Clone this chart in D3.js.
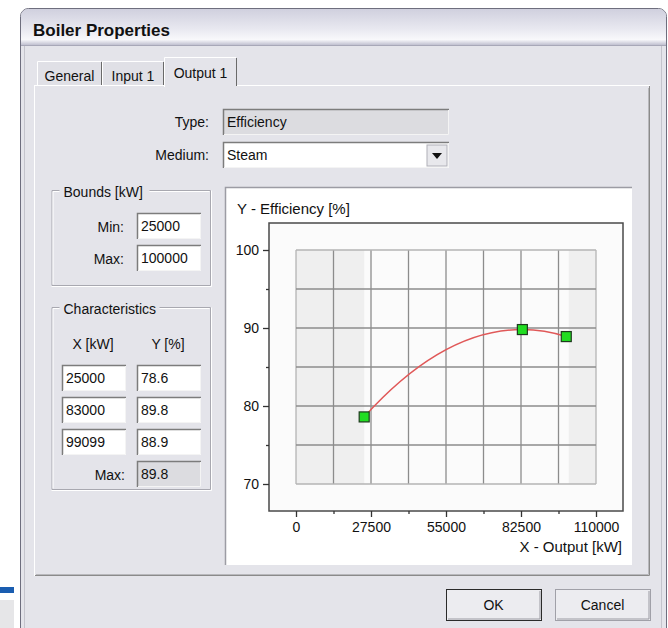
<!DOCTYPE html>
<html>
<head>
<meta charset="utf-8">
<script src="https://cdn.jsdelivr.net/npm/d3@7"></script>
<style>
  body { margin: 0; background: #fff; }
  text { font-family: "Liberation Sans", Arial, sans-serif; fill: #111; }
</style>
</head>
<body>
<div id="dialog"></div>
<script>
// chart data
var xTicks = [0, 27500, 55000, 82500, 110000];
var xMinor = [13750, 41250, 68750, 96250];
var yTicks = [70, 80, 90, 100];
var yMinor = [75, 85, 95];
var pointX = [25000, 83000, 99099];
var pointY = [78.6, 89.8, 88.9];
var boundsMin = 25000, boundsMax = 100000;
var maxEff = 89.8;

var width = 668, height = 628;
var bodyColor = "#e4e4ea";

var svg = d3.select("#dialog").append("svg")
    .attr("width", width)
    .attr("height", height);

var defs = svg.append("defs");
var grad = defs.append("linearGradient").attr("id", "titleGrad")
    .attr("x1", 0).attr("y1", 0).attr("x2", 0).attr("y2", 1);
grad.append("stop").attr("offset", "0%").attr("stop-color", "#d0d0de");
grad.append("stop").attr("offset", "55%").attr("stop-color", "#e8e8f0");
grad.append("stop").attr("offset", "85%").attr("stop-color", "#f8f8fb");
grad.append("stop").attr("offset", "100%").attr("stop-color", "#c0c0d0");

// background bits left of the window
svg.append("rect").attr("x", 0).attr("y", 587).attr("width", 14).attr("height", 6).attr("fill", "#1a5db0");
svg.append("rect").attr("x", 0).attr("y", 600).attr("width", 14).attr("height", 28).attr("fill", "#e6e6e8");

// window frame
svg.append("rect")
    .attr("x", 20.5).attr("y", 8.5).attr("width", 646).attr("height", 640)
    .attr("rx", 8)
    .attr("fill", bodyColor).attr("stroke", "#6e6e7e");
svg.append("path")
    .attr("d", "M21,45 L21,17 Q21,9 29,9 L658,9 Q666,9 666,17 L666,45 Z")
    .attr("fill", "url(#titleGrad)");
svg.append("line").attr("x1", 21).attr("x2", 666).attr("y1", 45.5).attr("y2", 45.5).attr("stroke", "#a8a8b8");
svg.append("line").attr("x1", 24.5).attr("x2", 24.5).attr("y1", 46).attr("y2", 628).attr("stroke", "#c4c4cc");
svg.append("line").attr("x1", 661.5).attr("x2", 661.5).attr("y1", 46).attr("y2", 628).attr("stroke", "#c4c4cc");

svg.append("text")
    .attr("x", 33).attr("y", 36)
    .style("font-size", "17px").style("font-weight", "bold")
    .text("Boiler Properties");

// tab page
svg.append("rect").attr("x", 34.5).attr("y", 85.5).attr("width", 615).attr("height", 490)
    .attr("fill", bodyColor).attr("stroke", "#ffffff");
svg.append("path").attr("d", "M649.5,86 L649.5,575.5 L35,575.5")
    .attr("fill", "none").attr("stroke", "#8a8a8a");
svg.append("path").attr("d", "M648.5,88 L648.5,574.5 L36,574.5")
    .attr("fill", "none").attr("stroke", "#b8b8bc");

// tabs
var tabs = [
    { label: "General", x0: 37, x1: 102, selected: false },
    { label: "Input 1", x0: 102, x1: 164, selected: false },
    { label: "Output 1", x0: 164, x1: 237, selected: true }
];
tabs.forEach(function(t) {
    var top = t.selected ? 57 : 61;
    var bottom = t.selected ? 87 : 85;
    svg.append("rect").attr("x", t.x0).attr("y", top).attr("width", t.x1 - t.x0).attr("height", bottom - top)
        .attr("fill", t.selected ? bodyColor : "#e0e0e6");
    svg.append("path")
        .attr("d", "M" + (t.x0 + 0.5) + "," + bottom + " L" + (t.x0 + 0.5) + "," + (top + 0.5) + " L" + (t.x1 - 1) + "," + (top + 0.5))
        .attr("fill", "none").attr("stroke", "#ffffff");
    svg.append("line").attr("x1", t.x1 - 0.5).attr("x2", t.x1 - 0.5).attr("y1", top + 1).attr("y2", bottom - (t.selected ? 1 : 0))
        .attr("stroke", "#6a6a6a");
    svg.append("text")
        .attr("x", (t.x0 + t.x1) / 2).attr("y", t.selected ? 78 : 81)
        .attr("text-anchor", "middle")
        .style("font-size", "14px")
        .text(t.label);
});

// windows style edit box
function field(x, y, w, h, value, disabled) {
    svg.append("rect").attr("x", x).attr("y", y).attr("width", w).attr("height", h)
        .attr("fill", disabled ? "#dcdce0" : "#ffffff");
    svg.append("path").attr("d", "M" + (x + 0.5) + "," + (y + h) + " L" + (x + 0.5) + "," + (y + 0.5) + " L" + (x + w) + "," + (y + 0.5))
        .attr("fill", "none").attr("stroke", "#7c7c7c").attr("stroke-width", 1.5);
    svg.append("path").attr("d", "M" + (x + 1) + "," + (y + h - 0.5) + " L" + (x + w - 0.5) + "," + (y + h - 0.5) + " L" + (x + w - 0.5) + "," + (y + 1))
        .attr("fill", "none").attr("stroke", "#f4f4f4");
    svg.append("text").attr("x", x + 4).attr("y", y + h / 2 + 5)
        .style("font-size", "14px")
        .text(value);
}

function label(x, y, txt, anchor) {
    svg.append("text").attr("x", x).attr("y", y)
        .attr("text-anchor", anchor || "end")
        .style("font-size", "14px")
        .text(txt);
}

function groupBox(x, y, w, h, title, titleW) {
    svg.append("path")
        .attr("d", "M" + (x + 8) + "," + y + " L" + (x + 0.5) + "," + y + " L" + (x + 0.5) + "," + (y + h) +
            " L" + (x + w) + "," + (y + h) + " L" + (x + w) + "," + y + " L" + (x + 14 + titleW) + "," + y)
        .attr("fill", "none").attr("stroke", "#a8a8b0");
    svg.append("path")
        .attr("d", "M" + (x + 8) + "," + (y + 1) + " L" + (x + 1.5) + "," + (y + 1) + " L" + (x + 1.5) + "," + (y + h - 1) +
            " M" + (x + w + 1) + "," + y + " L" + (x + w + 1) + "," + (y + h + 1) + " L" + x + "," + (y + h + 1) +
            " M" + (x + w - 1) + "," + (y + 1) + " L" + (x + 14 + titleW) + "," + (y + 1))
        .attr("fill", "none").attr("stroke", "#ffffff");
    label(x + 12, y + 6, title, "start");
}

label(209, 127, "Type:");
field(223, 109, 226, 26, "Efficiency", true);
label(209, 160, "Medium:");
field(223, 142, 226, 26, "Steam", false);

// combo button
svg.append("rect").attr("x", 427).attr("y", 145).attr("width", 20).attr("height", 21)
    .attr("fill", "#e8e8ec").attr("stroke", "#b0b0b8");
svg.append("path").attr("d", "M432,153 L442,153 L437,159 Z").attr("fill", "#111");

groupBox(51.5, 190.5, 159, 95, "Bounds [kW]", 84);
label(124, 232, "Min:");
field(137, 213, 64, 26, d3.format("d")(boundsMin), false);
label(124, 264, "Max:");
field(137, 245, 64, 26, d3.format("d")(boundsMax), false);

groupBox(51.5, 307.5, 159, 182, "Characteristics", 94);
label(93, 349, "X [kW]", "middle");
label(168, 349, "Y [%]", "middle");
var rowTops = [365, 397, 429];
pointX.forEach(function(v, i) {
    field(62, rowTops[i], 64, 26, d3.format("d")(v), false);
    field(137, rowTops[i], 64, 26, d3.format(".1f")(pointY[i]), false);
});
label(125, 480, "Max:");
field(137, 461, 64, 26, d3.format(".1f")(maxEff), true);

// buttons
function button(x, y, w, h, txt, isDefault) {
    svg.append("rect").attr("x", x + 0.5).attr("y", y + 0.5).attr("width", w).attr("height", h)
        .attr("fill", "#ececf0").attr("stroke", isDefault ? "#2a2a2a" : "#a0a0a8");
    svg.append("path").attr("d", "M" + (x + 2) + "," + (y + h - 1) + " L" + (x + w - 1) + "," + (y + h - 1) + " L" + (x + w - 1) + "," + (y + 2))
        .attr("fill", "none").attr("stroke", "#9a9aa2");
    label(x + w / 2, y + h / 2 + 5, txt, "middle");
}
button(446, 589, 95, 31, "OK", true);
button(555, 589, 95, 31, "Cancel", false);

// ******** chart ********
var chartBox = { x: 225, y: 187, w: 407, h: 378 };
svg.append("rect").attr("x", chartBox.x).attr("y", chartBox.y).attr("width", chartBox.w).attr("height", chartBox.h)
    .attr("fill", "#ffffff");
svg.append("path")
    .attr("d", "M" + (chartBox.x + 0.5) + "," + (chartBox.y + chartBox.h) + " L" + (chartBox.x + 0.5) + "," + (chartBox.y + 0.5) + " L" + (chartBox.x + chartBox.w) + "," + (chartBox.y + 0.5))
    .attr("fill", "none").attr("stroke", "#9c9ca4").attr("stroke-width", 1.5);

var frame = { left: 269, top: 223, right: 623, bottom: 511 };

svg.append("rect")
    .attr("x", frame.left).attr("y", frame.top)
    .attr("width", frame.right - frame.left).attr("height", frame.bottom - frame.top)
    .attr("fill", "#fbfbfb");

var x = d3.scaleLinear().domain([0, 110000]).range([296, 596]);
var y = d3.scaleLinear().domain([70, 100]).range([484, 250]);

var plot = svg.append("g").attr("class", "plot");

// out-of-bounds shading
plot.append("rect")
    .attr("x", x(0)).attr("y", y(100))
    .attr("width", x(boundsMin) - x(0)).attr("height", y(70) - y(100))
    .attr("fill", "#efefef");
plot.append("rect")
    .attr("x", x(boundsMax)).attr("y", y(100))
    .attr("width", x(110000) - x(boundsMax)).attr("height", y(70) - y(100))
    .attr("fill", "#efefef");

var allX = xTicks.concat(xMinor);
var allY = yTicks.concat(yMinor);

plot.selectAll(".vgrid")
    .data(allX)
    .enter().append("line")
    .attr("class", "vgrid")
    .attr("x1", function(d) { return x(d); })
    .attr("x2", function(d) { return x(d); })
    .attr("y1", y(100)).attr("y2", y(70))
    .attr("stroke", function(d) { return (d === 0 || d === 110000) ? "#b4b4b4" : "#8c8c8c"; })
    .attr("stroke-width", 1.3);

plot.selectAll(".hgrid")
    .data(allY)
    .enter().append("line")
    .attr("class", "hgrid")
    .attr("x1", x(0)).attr("x2", x(110000))
    .attr("y1", function(d) { return y(d); })
    .attr("y2", function(d) { return y(d); })
    .attr("stroke", function(d) { return (d === 70 || d === 100) ? "#b4b4b4" : "#8c8c8c"; })
    .attr("stroke-width", 1.3);

// frame
svg.append("rect")
    .attr("x", frame.left).attr("y", frame.top)
    .attr("width", frame.right - frame.left).attr("height", frame.bottom - frame.top)
    .attr("fill", "none").attr("stroke", "#4a4a4a").attr("stroke-width", 1.5);

// axes
var yAxis = d3.axisLeft(y).tickValues(yTicks).tickSize(6).tickPadding(4);
var yAxisMinor = d3.axisLeft(y).tickValues(yMinor).tickSize(3).tickFormat("");
var xAxis = d3.axisBottom(x).tickValues(xTicks).tickSize(6).tickPadding(5).tickFormat(d3.format("d"));
var xAxisMinor = d3.axisBottom(x).tickValues(xMinor).tickSize(3).tickFormat("");

[yAxis, yAxisMinor].forEach(function(ax) {
    var g = svg.append("g").attr("class", "axis axis--y")
        .attr("transform", "translate(" + frame.left + ",0)")
        .call(ax);
    g.select(".domain").remove();
});
[xAxis, xAxisMinor].forEach(function(ax) {
    var g = svg.append("g").attr("class", "axis axis--x")
        .attr("transform", "translate(0," + frame.bottom + ")")
        .call(ax);
    g.select(".domain").remove();
});
svg.selectAll(".axis line").attr("stroke", "#333").attr("stroke-width", 1.3);
svg.selectAll(".axis text")
    .style("font-size", "14px")
    .style("font-family", "'Liberation Sans', Arial, sans-serif")
    .attr("fill", "#111");

svg.append("text")
    .attr("x", 237).attr("y", 214)
    .style("font-size", "15px")
    .text("Y - Efficiency [%]");

svg.append("text")
    .attr("x", 622).attr("y", 552)
    .attr("text-anchor", "end")
    .style("font-size", "15px")
    .text("X - Output [kW]");

// efficiency curve: cubic hermite through the points, tangents from the
// three-point (parabolic) estimate so the arc bends like the original fit
var points = pointX.map(function(v, i) { return { x: v, y: pointY[i] }; });

function tangents(pts) {
    var n = pts.length, m = [];
    var s = [], h = [];
    for (var i = 0; i < n - 1; i++) {
        h.push(pts[i + 1].x - pts[i].x);
        s.push((pts[i + 1].y - pts[i].y) / h[i]);
    }
    for (var k = 0; k < n; k++) {
        if (k === 0) m.push(s[0] + (s[0] - s[1]) * h[0] / (h[0] + h[1]));
        else if (k === n - 1) m.push(s[k - 1] + (s[k - 1] - s[k - 2]) * h[k - 1] / (h[k - 1] + h[k - 2]));
        else m.push((s[k - 1] * h[k] + s[k] * h[k - 1]) / (h[k - 1] + h[k]));
    }
    return m;
}

var m = tangents(points);
var p = d3.path();
p.moveTo(x(points[0].x), y(points[0].y));
for (var i = 0; i < points.length - 1; i++) {
    var a = points[i], b = points[i + 1], dx = (b.x - a.x) / 3;
    p.bezierCurveTo(x(a.x + dx), y(a.y + m[i] * dx),
        x(b.x - dx), y(b.y - m[i + 1] * dx),
        x(b.x), y(b.y));
}

plot.append("path")
    .attr("fill", "none")
    .attr("stroke", "#e05858")
    .attr("stroke-width", 1.4)
    .attr("d", p.toString());

plot.selectAll(".marker")
    .data(points)
    .enter().append("rect")
    .attr("class", "marker")
    .attr("x", function(d) { return x(d.x) - 5; })
    .attr("y", function(d) { return y(d.y) - 5; })
    .attr("width", 10).attr("height", 10)
    .attr("fill", "#22dd22")
    .attr("stroke", "#1e3a1e")
    .attr("stroke-width", 1.2);
</script>
</body>
</html>
